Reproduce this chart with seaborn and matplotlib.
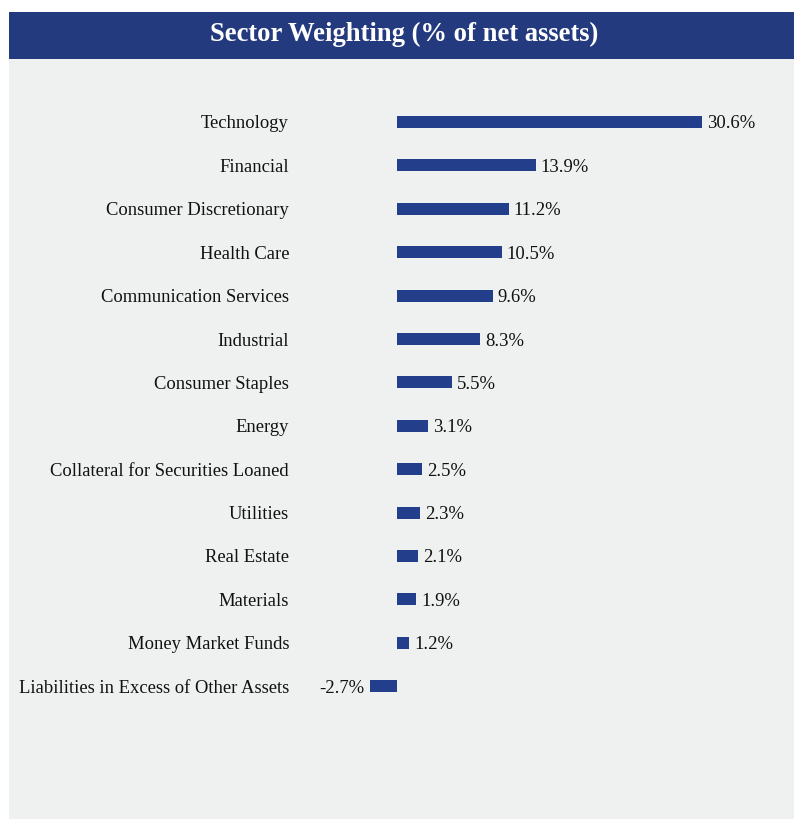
import matplotlib
matplotlib.use("Agg")
import matplotlib.pyplot as plt
from matplotlib.patches import Rectangle
import seaborn as sns
import pandas as pd

categories = ["Technology", "Financial", "Consumer Discretionary", "Health Care",
              "Communication Services", "Industrial", "Consumer Staples", "Energy",
              "Collateral for Securities Loaned", "Utilities", "Real Estate",
              "Materials", "Money Market Funds", "Liabilities in Excess of Other Assets"]
values = [30.6, 13.9, 11.2, 10.5, 9.6, 8.3, 5.5, 3.1, 2.5, 2.3, 2.1, 1.9, 1.2, -2.7]
title = "Sector Weighting (% of net assets)"

df = pd.DataFrame({"sector": categories, "weight": values})

sns.set_theme(style="white")
plt.rcParams["font.family"] = ["Liberation Serif", "DejaVu Serif"]

W, H = 794, 819
fig = plt.figure(figsize=(W / 100, H / 100), dpi=100)
fig.patch.set_facecolor("white")

bg = "#EFF0F0"
navy = "#243A7E"
bar_c = "#233F8B"
txt_c = "#111111"
fs = 13.4

# panel and title bar (figure pixel coords -> fraction)
fig.patches.append(Rectangle((9 / W, 0), (W - 9) / W, (H - 59) / H,
                             transform=fig.transFigure, facecolor=bg, edgecolor="none", zorder=-2))
fig.patches.append(Rectangle((9 / W, (H - 59) / H), (W - 9) / W, 47 / H,
                             transform=fig.transFigure, facecolor=navy, edgecolor="none", zorder=-2))
fig.text(404 / W, (H - 34) / H, title, color="white", fontsize=19.2, fontweight="bold",
         ha="center", va="center", family=["Liberation Serif", "DejaVu Serif"])

# axes placement: zero at x=397, 9.97 px per unit; rows 43.4 px apart, first centre y=122
xmin, xmax = -4, 36
px = 9.97
left = 397 + xmin * px
right = 397 + xmax * px
row = 43.4
top = 122 - 0.5 * row
bottom = top + len(categories) * row
ax = fig.add_axes([left / W, 1 - bottom / H, (right - left) / W, (bottom - top) / H])
ax.set_facecolor("none")
ax.set_zorder(1)

sns.barplot(data=df, x="weight", y="sector", orient="h", color=bar_c, width=0.28,
            linewidth=0, saturation=1, ax=ax)
ax.set_xlim(xmin, xmax)
ax.set_ylim(len(categories) - 0.5, -0.5)

for i, v in enumerate(values):
    if v >= 0:
        ax.annotate(f"{v:.1f}%", (v, i), xytext=(3.6, 0), textcoords="offset points",
                    ha="left", va="center_baseline", fontsize=fs, color=txt_c)
    else:
        ax.annotate(f"{v:.1f}%", (v, i), xytext=(-4.3, 0), textcoords="offset points",
                    ha="right", va="center_baseline", fontsize=fs, color=txt_c)

ax.set_xlabel("")
ax.set_ylabel("")
ax.set_xticks([])
ax.tick_params(axis="y", length=0, pad=(left - 289) * 0.72, labelsize=fs, labelcolor=txt_c)
for s in ax.spines.values():
    s.set_visible(False)

fig.savefig("out.png", dpi=100, facecolor=fig.get_facecolor())
